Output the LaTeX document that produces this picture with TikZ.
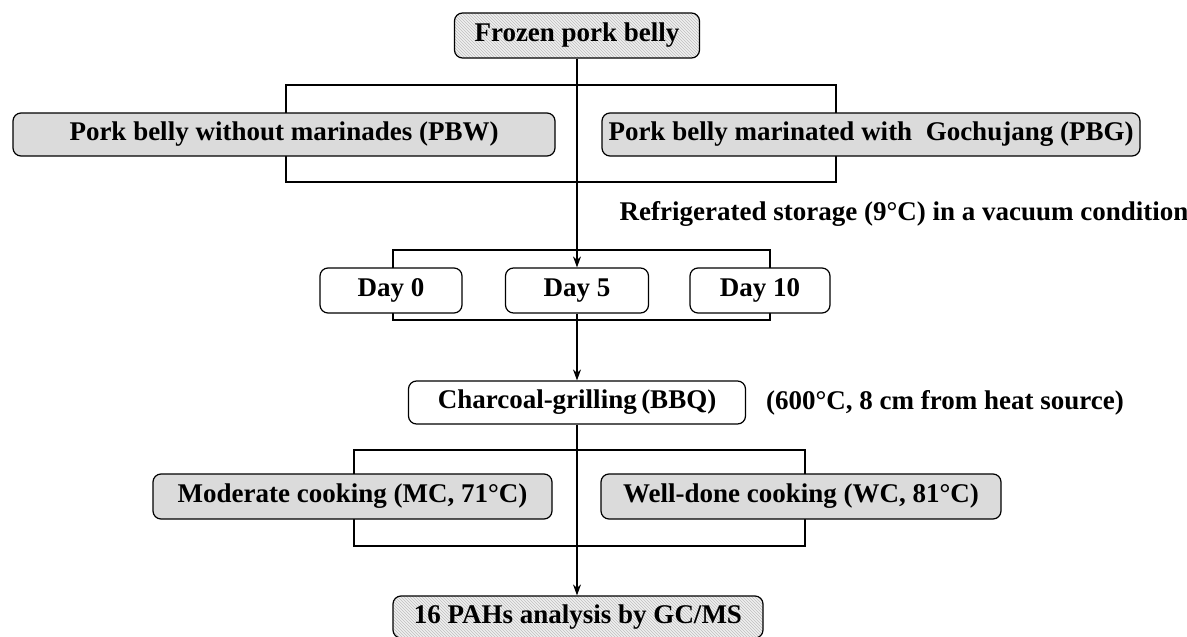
\documentclass[tikz,border=0pt]{standalone}
\usepackage{fontspec}
\setmainfont{Liberation Serif}
\usetikzlibrary{patterns,arrows.meta}
\begin{document}
\begin{tikzpicture}[x=1pt,y=-1pt,
 box/.style={draw, rounded corners=8pt, line width=1.2pt, minimum height=44pt, font=\fontsize{27}{30}\selectfont\bfseries, inner sep=0pt},
 graybox/.style={box, fill=gray!28},
 hatchbox/.style={box, preaction={fill=gray!12}, pattern=north west lines, pattern color=gray!50},
 whitebox/.style={box, fill=white},
 bracket/.style={draw, line width=1.2pt},
 arr/.style={line width=1.2pt, -{Stealth[length=11pt,width=8pt]}},
 lbl/.style={font=\fontsize{27}{30}\selectfont\bfseries, inner sep=0pt}
]
\useasboundingbox (0,0) rectangle (1187,637);
% brackets
\draw[bracket] (286,85) rectangle (836,182);
\draw[bracket] (393,250) rectangle (770,320);
\draw[bracket] (354,450) rectangle (805,546);
% nodes
\node[hatchbox, minimum width=245pt, minimum height=45pt] (frozen) at (577,35.5) {Frozen pork belly};
\node[graybox, minimum width=542pt, minimum height=43pt] (pbw) at (284,134.5) {Pork belly without marinades (PBW)};
\node[graybox, minimum width=538pt, minimum height=43pt] (pbg) at (871,134.5) {Pork belly marinated with\ \ Gochujang (PBG)};
\node[lbl] (storage) at (904,214) {Refrigerated storage (9°C) in a vacuum condition};
\node[whitebox, minimum width=142pt, minimum height=45pt] (day0) at (391,290.5) {Day 0};
\node[whitebox, minimum width=143pt, minimum height=45pt] (day5) at (577,290.5) {Day 5};
\node[whitebox, minimum width=140pt, minimum height=45pt] (day10) at (760,290.5) {Day 10};
\node[whitebox, minimum width=337pt, minimum height=43pt] (bbq) at (577,402.5) {Charcoal-grilling\,(BBQ)};
\node[lbl] (heat) at (945,403) {(600°C, 8 cm from heat source)};
\node[graybox, minimum width=399pt, minimum height=45pt] (mc) at (352.5,496.5) {Moderate cooking (MC, 71°C)};
\node[graybox, minimum width=400pt, minimum height=45pt] (wc) at (801,496.5) {Well-done cooking (WC, 81°C)};
\node[hatchbox, minimum width=370pt, minimum height=42pt] (pahs) at (578,617) {16 PAHs analysis by GC/MS};
% connectors
\draw[arr] (frozen.south) -- (frozen.south |- day5.north);
\draw[arr] (day5.south) -- (day5.south |- bbq.north);
\draw[arr] (bbq.south) -- (bbq.south |- pahs.north);
\end{tikzpicture}
\end{document}
